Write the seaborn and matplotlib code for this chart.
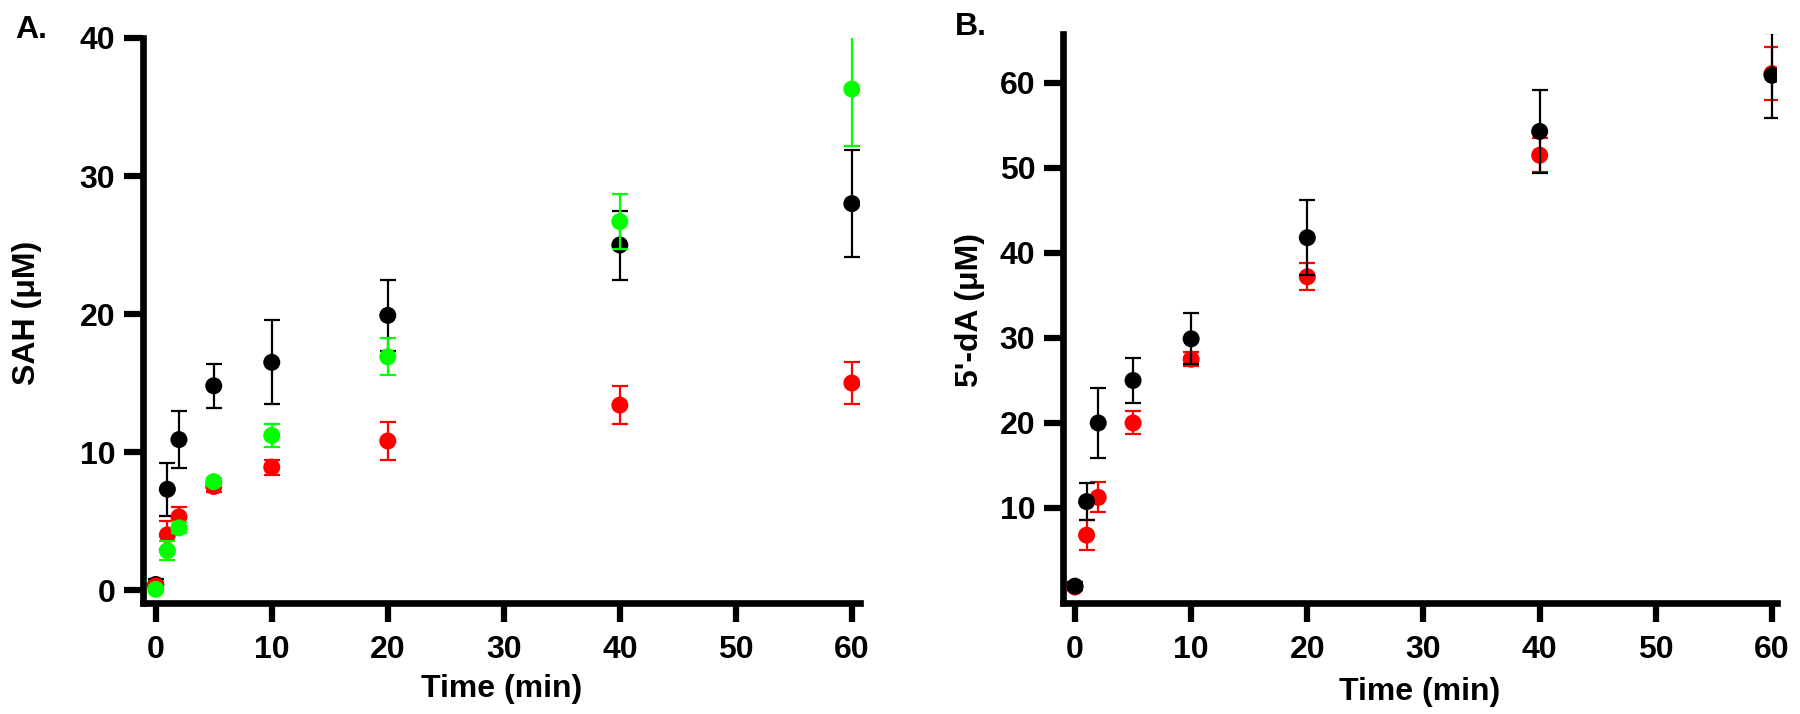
import numpy as np
import pandas as pd
import matplotlib
matplotlib.use("Agg")
import matplotlib.pyplot as plt
import seaborn as sns

# ---------------- data ----------------
time_min = [0, 1, 2, 5, 10, 20, 40, 60]

# Panel A: SAH (uM)
sah_black = [0.4, 7.3, 10.9, 14.8, 16.5, 19.9, 25.0, 28.0]
sah_black_err = [0.4, 1.9, 2.05, 1.6, 3.05, 2.6, 2.5, 3.9]
sah_red = [0.3, 4.0, 5.3, 7.5, 8.9, 10.8, 13.4, 15.0]
sah_red_err = [0.3, 1.0, 0.75, 0.4, 0.55, 1.4, 1.4, 1.5]
sah_green = [0.05, 2.85, 4.5, 7.85, 11.2, 16.9, 26.7, 36.3]
sah_green_err = [0.2, 0.7, 0.4, 0.3, 0.85, 1.35, 2.0, 4.1]

# Panel B: 5'-dA (uM)
dA_black = [0.8, 10.75, 20.0, 25.0, 29.9, 41.8, 54.3, 60.9]
dA_black_err = [0.5, 2.2, 4.1, 2.6, 3.0, 4.4, 4.9, 5.0]
dA_red = [0.7, 6.8, 11.25, 20.0, 27.5, 37.2, 51.5, 61.1]
dA_red_err = [0.4, 1.8, 1.75, 1.35, 0.8, 1.6, 2.0, 3.1]

xticks = [0, 10, 20, 30, 40, 50, 60]
yticks_A = [0, 10, 20, 30, 40]
yticks_B = [10, 20, 30, 40, 50, 60]

colors = {"black": "#000000", "red": "#FF0000", "green": "#00FF00"}

# ---------------- style ----------------
sns.set_theme(style="ticks")
plt.rcParams["font.family"] = ["Liberation Sans", "DejaVu Sans"]
plt.rcParams["font.weight"] = "bold"
for k in ("text.color", "axes.labelcolor", "xtick.color", "ytick.color",
          "axes.edgecolor"):
    plt.rcParams[k] = "black"
FS = 23

fig = plt.figure(figsize=(18, 7.14), dpi=100)
axA = fig.add_axes([0.07944, 0.15546, 0.39833, 0.79132])
axB = fig.add_axes([0.59056, 0.15546, 0.39667, 0.7969])


def draw(ax, y, err, col, z):
    df = pd.DataFrame({"time": time_min, "value": y})
    ax.errorbar(time_min, y, yerr=err, fmt="none", ecolor=colors[col],
                elinewidth=1.6, capsize=5.5, capthick=1.6, zorder=z)
    sns.scatterplot(data=df, x="time", y="value", color=colors[col], s=150,
                    edgecolor="none", linewidth=0, ax=ax, legend=False,
                    zorder=z + 0.5)


draw(axA, sah_black, sah_black_err, "black", 3)
draw(axA, sah_red, sah_red_err, "red", 4)
draw(axA, sah_green, sah_green_err, "green", 5)

draw(axB, dA_red, dA_red_err, "red", 3)
draw(axB, dA_black, dA_black_err, "black", 4)

for ax in (axA, axB):
    sns.despine(ax=ax)
    for s in ("left", "bottom"):
        ax.spines[s].set_linewidth(4.8)
        ax.spines[s].set_color("black")
        ax.spines[s].set_capstyle("projecting")
    ax.tick_params(axis="both", length=14, width=4.5, labelsize=FS,
                   direction="out", color="black", labelcolor="black")
    ax.tick_params(axis="x", pad=9)
    ax.tick_params(axis="y", pad=6)
    ax.set_xticks(xticks)
    ax.set_xlabel("Time (min)", fontsize=FS, fontweight="bold", color="black")

axA.set_xlim(-1.1, 60.7)
axA.set_ylim(-0.94, 40)
axA.set_yticks(yticks_A)
axA.set_ylabel("SAH (μM)", fontsize=FS, fontweight="bold", color="black")
axA.yaxis.set_label_coords(-0.141, 0.513)
axA.xaxis.set_label_coords(0.5, -0.125)

axB.set_xlim(-1.03, 60.43)
axB.set_ylim(-1.18, 65.76)
axB.set_yticks(yticks_B)
axB.set_ylabel("5'-dA (μM)", fontsize=FS, fontweight="bold", color="black")
axB.yaxis.set_label_coords(-0.109, 0.515)
axB.xaxis.set_label_coords(0.5, -0.13)

for ax in (axA, axB):
    for lab in ax.get_xticklabels() + ax.get_yticklabels():
        lab.set_fontweight("bold")

fig.text(15 / 1800, 1 - 38 / 714, "A.", fontsize=FS, fontweight="bold",
         ha="left", va="baseline", color="black")
fig.text(955 / 1800, 1 - 35 / 714, "B.", fontsize=FS, fontweight="bold",
         ha="left", va="baseline", color="black")

fig.savefig("out.png", dpi=100, facecolor="white")
